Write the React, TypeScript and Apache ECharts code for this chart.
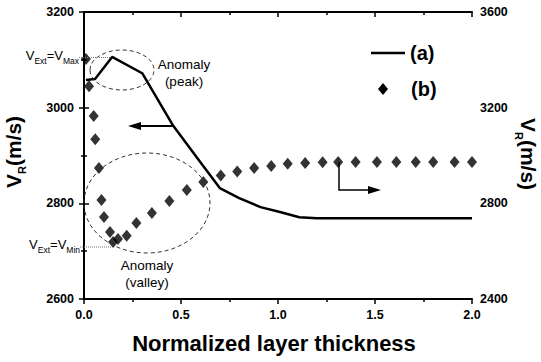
import React, { useEffect, useRef } from "react";
import * as echarts from "echarts";

// Curve (a): left axis
const xA = [0.01, 0.057, 0.145, 0.3, 0.46, 0.6, 0.7, 0.8, 0.91, 1.01, 1.11, 1.2, 1.4, 1.6, 1.8, 2.0];
const vA = [3058, 3060, 3106, 3072, 2962, 2886, 2832, 2811, 2792, 2782, 2771, 2769, 2769, 2769, 2769, 2769];

// Curve (b): right axis
const xB = [0.01, 0.026, 0.05, 0.058, 0.077, 0.09, 0.103, 0.134, 0.15, 0.175, 0.22, 0.27, 0.35, 0.44, 0.53, 0.615, 0.705, 0.79, 0.877, 0.965, 1.05, 1.14, 1.23, 1.31, 1.4, 1.51, 1.61, 1.71, 1.8, 1.91, 2.0];
const vB = [3404, 3290, 3165, 3068, 2948, 2814, 2743, 2680, 2638, 2651, 2664, 2718, 2760, 2810, 2856, 2889, 2916, 2933, 2948, 2956, 2966, 2969, 2972, 2973, 2973, 2973, 2973, 2973, 2973, 2973, 2973];

const xTickFmt = (v: number) => v.toFixed(1);
const yTickFmt = (v: number) => String(v);
const FONT = 'Arial, "Liberation Sans", sans-serif';

let ctx: CanvasRenderingContext2D | null = null;
function measure(t: string, fs: number, weight: string) {
  if (!ctx) ctx = document.createElement("canvas").getContext("2d");
  if (!ctx) return t.length * fs * 0.55;
  ctx.font = `${weight} ${fs}px Arial, "Liberation Sans"`;
  return ctx.measureText(t).width;
}

type Piece = { t: string; fs: number; dy?: number };
function run(pieces: Piece[], weight: string, x0: number, y0: number, align: "left" | "right" | "center") {
  const widths = pieces.map((p) => measure(p.t, p.fs, weight));
  const total = widths.reduce((a, b) => a + b, 0);
  let x = align === "left" ? x0 : align === "right" ? x0 - total : x0 - total / 2;
  const out: any[] = [];
  pieces.forEach((p, i) => {
    out.push({
      type: "text",
      x,
      y: y0 + (p.dy || 0),
      z: 100,
      style: {
        text: p.t,
        fontSize: p.fs,
        fontWeight: weight,
        fontFamily: FONT,
        fill: "#000",
        align: "left",
        verticalAlign: "middle",
        textAlign: "left",
        textVerticalAlign: "middle",
      },
    });
    x += widths[i];
  });
  return out;
}

function txt(t: string, x: number, y: number, fs: number, weight = "normal", align = "center") {
  return {
    type: "text",
    x,
    y,
    z: 100,
    style: {
      text: t,
      fontSize: fs,
      fontWeight: weight,
      fontFamily: FONT,
      fill: "#000",
      align,
      verticalAlign: "middle",
      textAlign: align,
      textVerticalAlign: "middle",
    },
  };
}

export default function App() {
  const ref = useRef<HTMLDivElement>(null);
  useEffect(() => {
    if (!ref.current) return;
    const chart = echarts.init(ref.current, undefined, { renderer: "svg" });
    const axisLbl = { color: "#000", fontWeight: "bold", fontSize: 12.5, fontFamily: FONT };
    const axLine = { lineStyle: { color: "#000", width: 2 } };
    const tick = { length: 5, lineStyle: { color: "#000", width: 1.5 } };
    const minor = { show: true, splitNumber: 2, length: 3, lineStyle: { color: "#000", width: 1.5 } };

    const yTitle: Piece[] = [
      { t: "V", fs: 21 },
      { t: "R", fs: 11, dy: 9 },
      { t: "(m/s)", fs: 21 },
    ];

    const dash = { fill: "none", stroke: "#333", lineWidth: 1, lineDash: [4, 3] };

    chart.setOption({
      animation: false,
      grid: { left: 84, right: 69, top: 12, bottom: 63 },
      xAxis: [
        {
          type: "value",
          position: "bottom",
          min: 0,
          max: 2,
          interval: 0.5,
          axisLine: axLine,
          axisTick: tick,
          minorTick: minor,
          splitLine: { show: false },
          axisLabel: { ...axisLbl, margin: 9, formatter: xTickFmt },
          name: "Normalized layer thickness",
          nameLocation: "middle",
          nameGap: 33,
          nameTextStyle: { color: "#000", fontWeight: "bold", fontSize: 22, fontFamily: FONT, padding: [0, 8, 0, 0] },
        },
        {
          type: "value",
          position: "top",
          min: 0,
          max: 2,
          interval: 0.5,
          axisLine: axLine,
          axisTick: { ...tick, inside: true },
          minorTick: minor,
          splitLine: { show: false },
          axisLabel: { show: false },
        },
      ],
      yAxis: [
        {
          type: "value",
          position: "left",
          min: 2600,
          max: 3200,
          interval: 200,
          axisLine: { show: true, ...axLine },
          axisTick: tick,
          minorTick: minor,
          splitLine: { show: false },
          axisLabel: { ...axisLbl, margin: 10, formatter: yTickFmt },
        },
        {
          type: "value",
          position: "right",
          min: 2400,
          max: 3600,
          interval: 400,
          axisLine: { show: true, ...axLine },
          axisTick: tick,
          minorTick: minor,
          splitLine: { show: false },
          axisLabel: { ...axisLbl, margin: 8, formatter: yTickFmt },
        },
      ],
      series: [
        {
          type: "line",
          name: "(a)",
          xAxisIndex: 0,
          yAxisIndex: 0,
          symbol: "none",
          data: xA.map((x, i) => [x, vA[i]]),
          lineStyle: { color: "#000", width: 2.5 },
          z: 3,
        },
        {
          type: "scatter",
          name: "(b)",
          xAxisIndex: 0,
          yAxisIndex: 1,
          symbol: "diamond",
          symbolSize: [10, 12],
          data: xB.map((x, i) => [x, vB[i]]),
          itemStyle: { color: "#000" },
          z: 4,
        },
      ],
      graphic: [
        // y titles
        { type: "group", x: 13, y: 152, rotation: Math.PI / 2, children: run(yTitle, "bold", 0, 0, "center") },
        { type: "group", x: 528, y: 154, rotation: -Math.PI / 2, children: run(yTitle, "bold", 0, 0, "center") },
        // legend
        { type: "line", z: 100, shape: { x1: 371, y1: 53, x2: 405, y2: 53 }, style: { stroke: "#000", lineWidth: 2.5 } },
        txt("(a)", 410, 53, 20, "bold", "left"),
        { type: "polygon", z: 100, shape: { points: [[383, 83], [388, 89], [383, 95], [378, 89]] }, style: { fill: "#000" } },
        txt("(b)", 411, 89, 20, "bold", "left"),
        // ellipses
        { type: "ellipse", z: 90, shape: { cx: 122, cy: 70, rx: 32, ry: 20 }, style: dash },
        { type: "ellipse", z: 90, shape: { cx: 147, cy: 203, rx: 63, ry: 50 }, style: dash },
        // annotations
        txt("Anomaly", 184, 64, 13.5),
        txt("(peak)", 184, 81, 13.5),
        txt("Anomaly", 147, 265, 13.5),
        txt("(valley)", 147, 282, 13.5),
        ...run(
          [
            { t: "V", fs: 13 },
            { t: "Ext", fs: 8.5, dy: 6 },
            { t: "=", fs: 13 },
            { t: "V", fs: 13 },
            { t: "Max", fs: 8.5, dy: 6 },
          ],
          "normal",
          79,
          55,
          "right"
        ),
        ...run(
          [
            { t: "V", fs: 13 },
            { t: "Ext", fs: 8.5, dy: 6 },
            { t: "=", fs: 13 },
            { t: "V", fs: 13 },
            { t: "Min", fs: 8.5, dy: 6 },
          ],
          "normal",
          80,
          244,
          "right"
        ),
        { type: "line", z: 95, shape: { x1: 79, y1: 57.5, x2: 111, y2: 57.5 }, style: { stroke: "#777", lineWidth: 1, lineDash: [1, 1] } },
        { type: "line", z: 95, shape: { x1: 80, y1: 247, x2: 112, y2: 247 }, style: { stroke: "#777", lineWidth: 1, lineDash: [1, 1] } },
        // left arrow
        { type: "line", z: 100, shape: { x1: 138, y1: 126, x2: 174, y2: 126 }, style: { stroke: "#000", lineWidth: 2 } },
        { type: "polygon", z: 100, shape: { points: [[128, 126], [141, 122], [141, 130]] }, style: { fill: "#000" } },
        // right arrow
        { type: "polyline", z: 100, shape: { points: [[339, 162], [339, 190], [371, 190]] }, style: { stroke: "#000", lineWidth: 1.5, fill: "none" } },
        { type: "polygon", z: 100, shape: { points: [[381, 190], [368, 186], [368, 194]] }, style: { fill: "#000" } },
      ],
    });
    return () => chart.dispose();
  }, []);
  return <div ref={ref} style={{ position: "fixed", left: 0, top: 0, width: 541, height: 362, background: "#fff" }} />;
}
